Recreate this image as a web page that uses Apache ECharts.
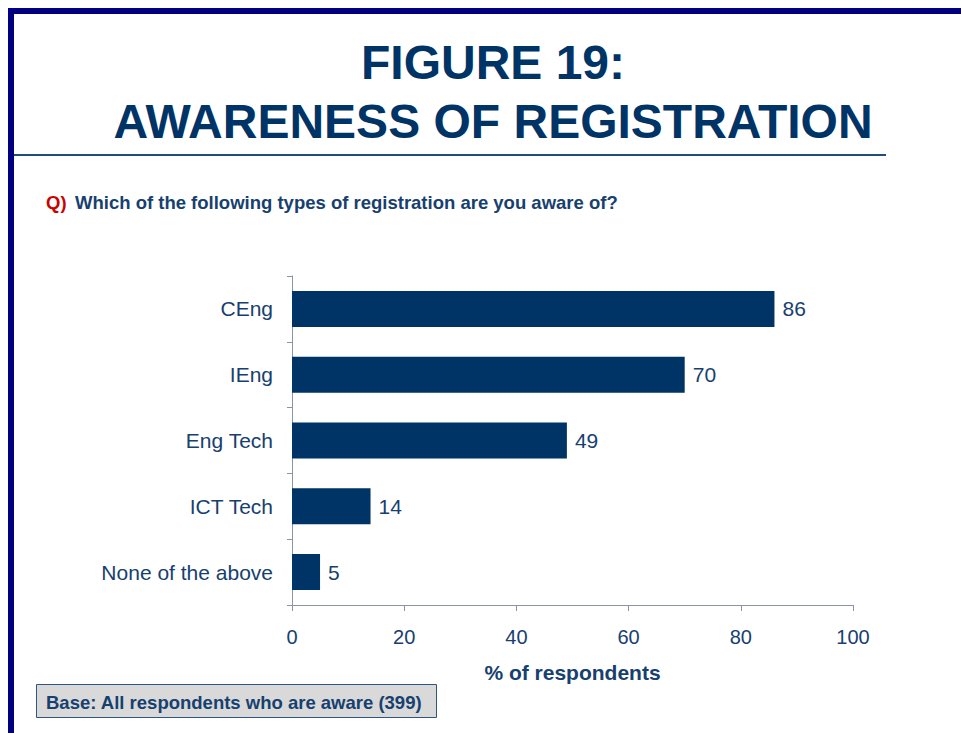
<!DOCTYPE html>
<html>
<head>
<meta charset="utf-8">
<title>Figure 19: Awareness of Registration</title>
<script src="https://cdn.jsdelivr.net/npm/echarts@6/dist/echarts.min.js"></script>
<style>
  html, body { margin: 0; padding: 0; background: #ffffff; }
  #chart { width: 961px; height: 733px; }
</style>
</head>
<body>
<div id="chart"></div>
<script>
// Registration types, top to bottom
const categories = ['CEng', 'IEng', 'Eng Tech', 'ICT Tech', 'None of the above'];
// Share of respondents aware of each type (%)
const awareness = [86, 70, 49, 14, 5];
// Value axis ticks
const xTicks = [0, 20, 40, 60, 80, 100];

const titleLines = ['FIGURE 19:', 'AWARENESS OF REGISTRATION'];
const questionLabel = 'Q)';
const questionText = 'Which of the following types of registration are you aware of?';
const baseText = 'Base: All respondents who are aware (399)';
const axisTitle = '% of respondents';

const NAVY = '#003366';
const TEXT = '#17406f';
const FRAME = '#000080';
const FONT = '"Liberation Sans", Arial, Helvetica, sans-serif';

const chart = echarts.init(document.getElementById('chart'), null, { renderer: 'svg' });

chart.setOption({
  backgroundColor: '#ffffff',
  animation: false,
  textStyle: { fontFamily: FONT },
  grid: { left: 292, right: 108, top: 276, bottom: 128, containLabel: false },
  xAxis: {
    type: 'value',
    min: xTicks[0],
    max: xTicks[xTicks.length - 1],
    interval: xTicks[1] - xTicks[0],
    name: axisTitle,
    nameLocation: 'middle',
    nameGap: 57,
    nameTextStyle: { color: TEXT, fontSize: 21, fontWeight: 'bold', fontFamily: FONT },
    axisLine: { show: true, lineStyle: { color: '#8c93a6', width: 1 } },
    axisTick: { show: true, length: 6, lineStyle: { color: '#8c93a6' } },
    axisLabel: { color: TEXT, fontSize: 20, margin: 22, fontFamily: FONT },
    splitLine: { show: false }
  },
  yAxis: {
    type: 'category',
    data: categories,
    inverse: true,
    axisLine: { show: true, lineStyle: { color: '#8c93a6', width: 1 } },
    axisTick: { show: true, length: 5, lineStyle: { color: '#8c93a6' } },
    axisLabel: { color: TEXT, fontSize: 21, margin: 19, fontFamily: FONT },
    splitLine: { show: false }
  },
  series: [{
    type: 'bar',
    data: awareness,
    barWidth: 36,
    itemStyle: { color: NAVY },
    label: {
      show: true,
      position: 'right',
      distance: 8,
      color: TEXT,
      fontSize: 21,
      fontFamily: FONT
    }
  }],
  graphic: [
    // page frame: top and left rules
    { type: 'rect', shape: { x: 8, y: 8, width: 953, height: 6 }, style: { fill: FRAME } },
    { type: 'rect', shape: { x: 8, y: 8, width: 6, height: 725 }, style: { fill: FRAME } },
    // heading
    {
      type: 'text', x: 493, y: 62,
      style: { text: titleLines[0], fill: NAVY, font: 'bold 48px ' + FONT, align: 'center', verticalAlign: 'middle' }
    },
    {
      type: 'text', x: 493, y: 121,
      style: { text: titleLines[1], fill: NAVY, font: 'bold 48px ' + FONT, align: 'center', verticalAlign: 'middle' }
    },
    // heading underline
    { type: 'rect', shape: { x: 14, y: 154, width: 872, height: 2 }, style: { fill: '#1f4e79' } },
    // question
    {
      type: 'text', x: 46, y: 202,
      style: { text: questionLabel, fill: '#cc0000', font: 'bold 18.5px ' + FONT, align: 'left', verticalAlign: 'middle' }
    },
    {
      type: 'text', x: 75, y: 202,
      style: { text: questionText, fill: TEXT, font: 'bold 18.5px ' + FONT, align: 'left', verticalAlign: 'middle' }
    },
    // base note box
    {
      type: 'rect', shape: { x: 36.5, y: 684.5, width: 400, height: 33 },
      style: { fill: '#d9d9d9', stroke: '#2f5583', lineWidth: 1 }
    },
    {
      type: 'text', x: 46, y: 702,
      style: { text: baseText, fill: TEXT, font: 'bold 18.5px ' + FONT, align: 'left', verticalAlign: 'middle' }
    }
  ]
});
</script>
</body>
</html>
